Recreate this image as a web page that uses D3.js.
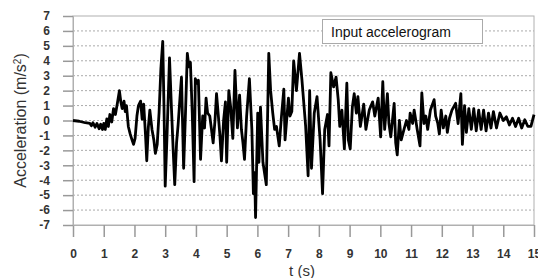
<html>
  <head>
    <meta charset="utf-8">
    <title>Input accelerogram</title>
    <style>
      body { margin: 0; background: #fff; }
      text { font-family: "Liberation Sans", Arial, sans-serif; }
    </style>
    <script src="https://d3js.org/d3.v7.min.js"></script>
  </head>
  <body>
    <svg id="chart"></svg>
    <script>
      // time (s) and acceleration (m/s2)
      const times = [0, 0.2, 0.4, 0.55, 0.6, 0.65, 0.72, 0.78, 0.85, 0.9, 0.96, 1.0, 1.05, 1.1, 1.15, 1.2, 1.26, 1.32, 1.38, 1.44,
        1.51, 1.56, 1.6, 1.66, 1.7, 1.74, 1.8, 1.86, 1.92, 1.97, 2.02, 2.08, 2.13, 2.2, 2.25, 2.3, 2.36, 2.4, 2.45, 2.5,
        2.57, 2.63, 2.68, 2.74, 2.8, 2.86, 2.92, 2.96, 3.0, 3.06, 3.14, 3.2, 3.26, 3.31, 3.37, 3.42, 3.48, 3.53, 3.6, 3.66,
        3.72, 3.77, 3.82, 3.88, 3.94, 3.98, 4.04, 4.08, 4.15, 4.22, 4.28, 4.33, 4.38, 4.45, 4.5, 4.56, 4.62, 4.67, 4.73, 4.78,
        4.83, 4.9, 4.96, 5.0, 5.07, 5.13, 5.2, 5.27, 5.35, 5.42, 5.48, 5.53, 5.58, 5.65, 5.74, 5.82, 5.87, 5.91, 5.94, 6.01,
        6.05, 6.1, 6.18, 6.29, 6.37, 6.43, 6.5, 6.56, 6.62, 6.71, 6.78, 6.86, 6.9, 7.01, 7.06, 7.12, 7.18, 7.27, 7.37, 7.45,
        7.52, 7.57, 7.65, 7.7, 7.76, 7.85, 7.94, 8.04, 8.12, 8.19, 8.28, 8.33, 8.39, 8.48, 8.56, 8.63, 8.68, 8.75, 8.83, 8.91,
        8.96, 9.02, 9.09, 9.15, 9.22, 9.27, 9.35, 9.46, 9.53, 9.64, 9.75, 9.82, 9.93, 10.01, 10.08, 10.14, 10.23, 10.28, 10.34, 10.45,
        10.5, 10.55, 10.62, 10.68, 10.77, 10.85, 10.93, 10.97, 11.05, 11.1, 11.2, 11.29, 11.35, 11.42, 11.48, 11.54, 11.63, 11.75, 11.8, 11.87,
        11.92, 11.98, 12.05, 12.13, 12.18, 12.25, 12.33, 12.45, 12.53, 12.62, 12.67, 12.74, 12.8, 12.88, 12.96, 13.04, 13.12, 13.2, 13.28, 13.36,
        13.44, 13.52, 13.6, 13.68, 13.78, 13.89, 14.0, 14.1, 14.2, 14.3, 14.4, 14.5, 14.6, 14.7, 14.8, 14.9, 15.0];
      const accel = [0, -0.05, -0.15, -0.2, -0.35, -0.15, -0.45, -0.2, -0.55, -0.25, -0.6, -0.2, -0.6, 0.1, -0.4, 0.4, -0.1, 0.8, 0.4, 1.1,
        2.0, 1.2, 0.8, 1.3, 0.6, 1.0, -0.4, -0.9, -1.3, -1.6, -1.2, 0.3, 1.0, 1.3, 0.1, 1.1, -1.0, -2.7, -0.5, 0.7,
        -0.6, -1.3, -2.2, -1.6, 0.5, 3.5, 5.3, 1.0, -4.4, -1.0, 4.2, 1.0, -2.0, -4.3, -1.5, -0.3, 1.5, 2.9, -3.2, 0.5,
        4.5, 3.6, 3.9, 0.5, -4.1, 2.8, 2.5, 2.7, -2.6, 0.3, -0.5, 1.5, 0.5, 0.3, -0.5, -1.5, 0.0, 1.8, 0.3, -1.0,
        -2.7, 0.0, 1.25, -2.8, 2.0, 0.9, -1.2, 3.35, -0.5, 1.7, -0.6, -1.5, -2.6, 0.3, 2.8, -0.6, -4.9, -3.5, -6.5, 0.5,
        -2.8, 0.9, -2.8, -4.3, 4.5, 2.0, 0.5, -0.6, -0.4, -1.7, 0.2, 2.1, -1.3, 1.5, 0.3, 0.6, 4.0, 2.0, 4.5, 2.7,
        0.9, -0.4, -3.7, 2.0, -3.2, 0.5, 1.6, -1.3, -4.9, -0.6, 0.4, -1.7, 3.2, 2.25, 2.9, 1.4, -0.4, 0.7, -1.9, 2.5,
        -1.3, -1.9, 0.9, 1.8, 0.5, 1.6, -0.4, 1.1, -0.6, 0.7, 1.25, 0.3, 1.5, -1.1, 2.6, -0.6, 1.8, -0.2, -1.1, 1.15,
        -1.5, -2.3, 0.0, -1.3, -0.6, 0.0, -0.6, 0.5, -0.2, 0.7, -0.6, -1.7, 1.85, -0.2, 0.3, -0.6, 0.7, 1.4, 0.3, -0.2,
        -0.9, 0.7, -0.5, 0.3, -0.8, 0.15, 0.7, 1.15, -0.2, 1.8, -1.6, 1.0, -0.8, 0.8, -0.6, 0.8, -0.7, 0.7, -0.6, 0.7,
        -0.7, 0.5, -0.5, 0.6, -0.5, 0.5, 0.0, 0.25, -0.3, 0.15, -0.4, 0.15, -0.5, 0.05, -0.4, -0.4, 0.4];
      const xTicks = d3.range(0, 16);
      const yTicks = d3.range(-7, 8);
      const legendLabel = 'Input accelerogram';

      const width = 538, height = 278;
      const plotLeft = 73, plotRight = 534, plotTop = 16, plotBottom = 225;

      const svg = d3.select('#chart')
        .attr('width', width)
        .attr('height', height);

      const x = d3.scaleLinear().domain([0, 15]).range([plotLeft, plotRight]);
      const y = d3.scaleLinear().domain([-7, 7]).range([plotBottom, plotTop]);

      // dashed horizontal grid
      svg.append('g')
        .selectAll('line')
        .data(yTicks.filter(d => d > -7 && d < 7))
        .join('line')
        .attr('x1', plotLeft).attr('x2', plotRight)
        .attr('y1', d => y(d)).attr('y2', d => y(d))
        .attr('stroke', '#aaa')
        .attr('stroke-width', 1)
        .attr('stroke-dasharray', '2,2');

      // frame
      svg.append('rect')
        .attr('x', plotLeft).attr('y', plotTop)
        .attr('width', plotRight - plotLeft).attr('height', plotBottom - plotTop)
        .attr('fill', 'none')
        .attr('stroke', '#b0b0b0')
        .attr('stroke-width', 1);

      // axes
      const xAxis = svg.append('g')
        .attr('transform', `translate(0,${plotBottom})`)
        .call(d3.axisBottom(x).tickValues(xTicks).tickSize(12).tickPadding(12).tickFormat(d3.format('d')));
      const yAxis = svg.append('g')
        .attr('transform', `translate(${plotLeft},0)`)
        .call(d3.axisLeft(y).tickValues(yTicks).tickSize(10).tickPadding(13).tickFormat(d3.format('d')));

      [xAxis, yAxis].forEach(a => {
        a.select('.domain').attr('stroke', '#b0b0b0');
        a.selectAll('.tick line').attr('stroke', '#999').attr('stroke-width', 1.5);
        a.selectAll('.tick text')
          .attr('fill', '#333')
          .style('font-size', '12px')
          .style('font-weight', 'bold');
      });
      yAxis.selectAll('.tick text').text(d => d < 0 ? '-' + Math.abs(d) : d);

      // signal
      const line = d3.line()
        .x((d, i) => x(times[i]))
        .y(d => y(d));
      svg.append('path')
        .datum(accel)
        .attr('d', line)
        .attr('fill', 'none')
        .attr('stroke', '#000')
        .attr('stroke-width', 2.8)
        .attr('stroke-linejoin', 'round');

      // legend
      const legend = svg.append('g');
      legend.append('rect')
        .attr('x', 322.5).attr('y', 19.5)
        .attr('width', 160).attr('height', 24)
        .attr('fill', '#fff')
        .attr('stroke', '#aaa');
      legend.append('text')
        .attr('x', 331).attr('y', 37)
        .attr('fill', '#111')
        .style('font-size', '14px')
        .text(legendLabel);

      // axis titles
      svg.append('text')
        .attr('x', 302)
        .attr('y', 276)
        .attr('text-anchor', 'middle')
        .attr('fill', '#333')
        .style('font-size', '15px')
        .text('t (s)');
      svg.append('text')
        .attr('transform', `translate(26,${(plotTop + plotBottom) / 2}) rotate(-90)`)
        .attr('text-anchor', 'middle')
        .attr('fill', '#333')
        .style('font-size', '16px')
        .html('Acceleration (m/s<tspan baseline-shift="super" font-size="10px">2</tspan>)');
    </script>
  </body>
</html>
